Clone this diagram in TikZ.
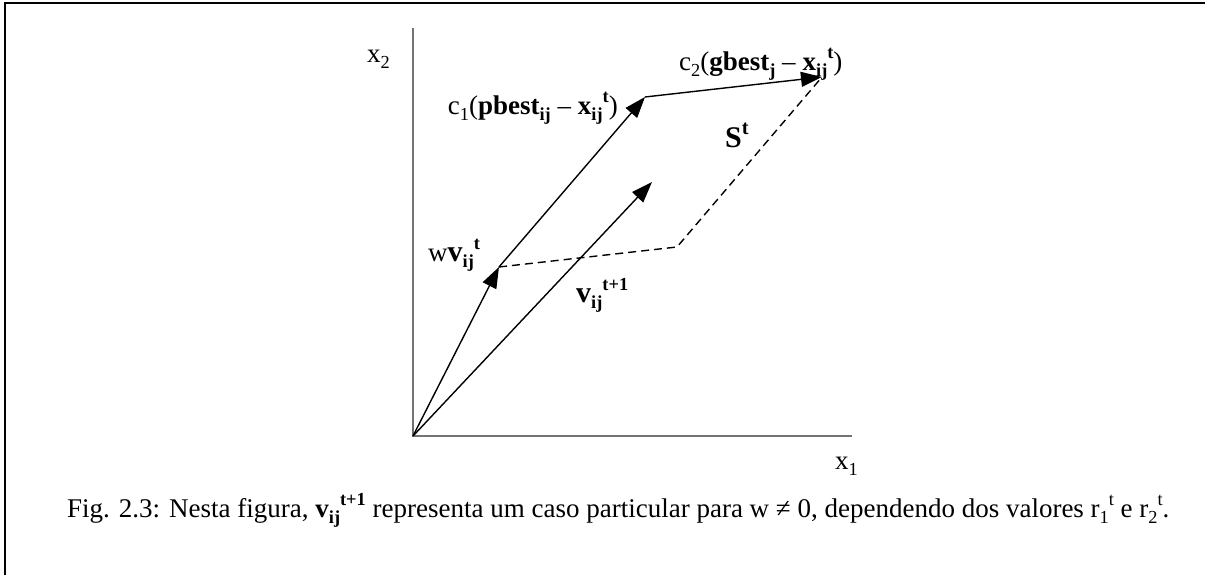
\documentclass[tikz,border=0pt]{standalone}
\usepackage{fontspec}
\setmainfont{Liberation Serif}
\usetikzlibrary{arrows.meta}
\newcommand\lo[1]{\raisebox{-0.22em}{\fontsize{0.68\fontdimen6\font}{1em}\selectfont #1}}
\newcommand\hi[1]{\raisebox{0.45em}{\fontsize{0.68\fontdimen6\font}{1em}\selectfont #1}}
\begin{document}
\begin{tikzpicture}[x=1pt,y=1pt,
  frameline/.style={line width=2.5pt,black},
  axisline/.style={line width=1.5pt,black!55},
  vec/.style={line width=1.4pt,-{Triangle[length=21pt,width=15pt]}},
  dashline/.style={line width=1.4pt,dash pattern=on 8pt off 5pt},
  lbl/.style={inner sep=0pt,font=\fontsize{27}{31}\selectfont},
  captext/.style={inner sep=0pt,font=\fontsize{27}{31}\selectfont,anchor=base west}]
\useasboundingbox (0,0) rectangle (1205,575);
\fill[white] (0,0) rectangle (1205,575);
% frame (top and left edges)
\coordinate (fa) at (5,0);
\coordinate (fb) at (5,572);
\coordinate (fc) at (1205,572);
\draw[frameline] (fa) -- (fb) -- (fc);
% axes
\coordinate (O) at (413,139);
\coordinate (ytop) at (413,547);
\coordinate (xend) at (852,139);
\draw[axisline] (ytop) -- (O) -- (xend);
% points
\coordinate (W) at (499,308);
\coordinate (P) at (645,478);
\coordinate (G) at (822,498);
\coordinate (V) at (652,393);
\coordinate (D) at (677,328);
% dashed parallelogram sides
\draw[dashline] (W) -- (D) -- (G);
% vectors
\draw[vec] (O) -- (W);
\draw[vec] (W) -- (P);
\draw[vec] (P) -- (G);
\draw[vec] (O) -- (V);
% labels
\node[lbl,anchor=base west] (lx2) at (367,512) {x\lo{2}};
\node[lbl,anchor=base west] (lx1) at (835,105) {x\lo{1}};
\node[lbl,anchor=base east] (lc1) at (618,460) {c\lo{1}(\textbf{pbest}\lo{\textbf{ij}} – \textbf{x}\lo{\textbf{ij}}\hi{\textbf{t}})};
\node[lbl,anchor=base west] (lc2) at (679,504) {c\lo{2}(\textbf{gbest}\lo{\textbf{j}} – \textbf{x}\lo{\textbf{ij}}\hi{\textbf{t}})};
\node[lbl,anchor=base west,font=\fontsize{30}{34}\selectfont\bfseries] (lS) at (725,427) {S\hi{t}};
\node[lbl,anchor=base west] (lw) at (428,313) {w{\fontsize{30}{34}\selectfont\textbf{v}}\lo{\textbf{ij}}\hi{\textbf{t}}};
\node[lbl,anchor=base west] (lv) at (576,272) {{\fontsize{30}{34}\selectfont\textbf{v}}\lo{\textbf{ij}}\hi{\textbf{t+1}}};
% caption
\node[captext] (caption) at (67,57) {Fig. 2.3: Nesta figura, \textbf{v}\lo{\textbf{ij}}\hi{\textbf{t+1}} representa um caso particular para w ≠ 0, dependendo dos valores r\lo{1}\hi{t} e r\lo{2}\hi{t}.};
\end{tikzpicture}
\end{document}
